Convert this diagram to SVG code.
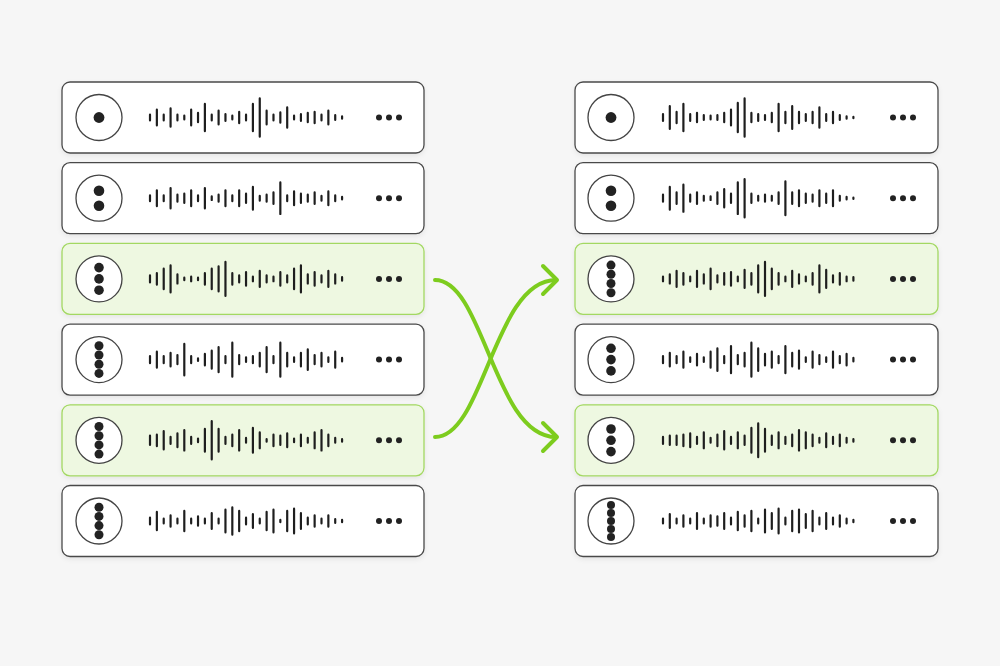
<svg xmlns="http://www.w3.org/2000/svg" width="1000" height="666" viewBox="0 0 1000 666">
<style>
.card{fill:#ffffff;stroke:#4a4a4a;stroke-width:1.3}
.hi .card{fill:#eef8e1;stroke:#a3d862}
.ring{fill:#ffffff;stroke:#444;stroke-width:1.3}
.dot{fill:#222}
.wave{fill:none;stroke:#1e1e1e;stroke-width:2.2;stroke-linecap:round}
.arrow{fill:none;stroke:#7dcc1e;stroke-width:4;stroke-linecap:round;stroke-linejoin:round}
</style>
<defs>
<filter id="sh" x="-5%" y="-10%" width="110%" height="130%">
<feDropShadow dx="0" dy="2" stdDeviation="2.5" flood-color="#000" flood-opacity="0.07"/>
</filter>
<g id="d1"><circle class="dot" cx="0" cy="0" r="5.4"/></g>
<g id="d2"><circle class="dot" cx="0" cy="-7.5" r="5.3"/><circle class="dot" cx="0" cy="7.5" r="5.3"/></g>
<g id="d3"><circle class="dot" cx="0" cy="-11.3" r="4.8"/><circle class="dot" cx="0" cy="0" r="4.8"/><circle class="dot" cx="0" cy="11.3" r="4.8"/></g>
<g id="d4"><circle class="dot" cx="0" cy="-13.8" r="4.5"/><circle class="dot" cx="0" cy="-4.6" r="4.5"/><circle class="dot" cx="0" cy="4.6" r="4.5"/><circle class="dot" cx="0" cy="13.8" r="4.5"/></g>
<g id="d5"><circle class="dot" cx="0" cy="-16" r="4"/><circle class="dot" cx="0" cy="-8" r="4"/><circle class="dot" cx="0" cy="0" r="4"/><circle class="dot" cx="0" cy="8" r="4"/><circle class="dot" cx="0" cy="16" r="4"/></g>
<g id="more"><circle class="dot" cx="317" cy="35.5" r="3"/><circle class="dot" cx="327" cy="35.5" r="3"/><circle class="dot" cx="337" cy="35.5" r="3"/></g>
</defs>
<rect width="1000" height="666" fill="#f6f6f6"/>

<g id="left-1" transform="translate(62,82)">
<rect class="card" x="0" y="0" width="362" height="71" rx="8" filter="url(#sh)"/>
<circle class="ring" cx="37" cy="35.5" r="23"/><use href="#d1" x="37" y="35.5"/>
<path class="wave" transform="matrix(1,0,0,1.12,0,-4.26)" d="M88,35.5 m0,-2.5v5m6.86,-2.5 m0,-7v14m6.86,-7 m0,-2.5v5m6.86,-2.5 m0,-8v16m6.86,-8 m0,-2.5v5m6.86,-2.5 m0,-1.5v3m6.86,-1.5 m0,-7v14m6.86,-7 m0,-4v8m6.86,-4 m0,-12v24m6.86,-12 m0,-2.5v5m6.86,-2.5 m0,-6v12m6.86,-6 m0,-3v6m6.86,-3 m0,-1.5v3m6.86,-1.5 m0,-5v10m6.86,-5 m0,-2.5v5m6.86,-2.5 m0,-12v24m6.86,-12 m0,-17v34m6.86,-17 m0,-6v12m6.86,-6 m0,-2.5v5m6.86,-2.5 m0,-4.5v9m6.86,-4.5 m0,-9v18m6.86,-9 m0,-1.5v3m6.86,-1.5 m0,-3v6m6.86,-3 m0,-4v8m6.86,-4 m0,-5v10m6.86,-5 m0,-2.5v5m6.86,-2.5 m0,-6v12m6.86,-6 m0,-2v4m6.86,-2 m0,-1v2"/>
<use href="#more"/>
</g>

<g id="left-2" transform="translate(62,162.7)">
<rect class="card" x="0" y="0" width="362" height="71" rx="8" filter="url(#sh)"/>
<circle class="ring" cx="37" cy="35.5" r="23"/><use href="#d2" x="37" y="35.5"/>
<path class="wave" transform="matrix(1,0,0,1.12,0,-4.26)" d="M88,35.5 m0,-2.5v5m6.86,-2.5 m0,-7v14m6.86,-7 m0,-2.5v5m6.86,-2.5 m0,-9v18m6.86,-9 m0,-3v6m6.86,-3 m0,-4v8m6.86,-4 m0,-7v14m6.86,-7 m0,-2.5v5m6.86,-2.5 m0,-9v18m6.86,-9 m0,-1.5v3m6.86,-1.5 m0,-3v6m6.86,-3 m0,-7v14m6.86,-7 m0,-2.5v5m6.86,-2.5 m0,-7v14m6.86,-7 m0,-4v8m6.86,-4 m0,-10v20m6.86,-10 m0,-2v4m6.86,-2 m0,-3v6m6.86,-3 m0,-5v10m6.86,-5 m0,-14v28m6.86,-14 m0,-2.5v5m6.86,-2.5 m0,-6v12m6.86,-6 m0,-4v8m6.86,-4 m0,-3v6m6.86,-3 m0,-5v10m6.86,-5 m0,-2v4m6.86,-2 m0,-6v12m6.86,-6 m0,-2.5v5m6.86,-2.5 m0,-1v2"/>
<use href="#more"/>
</g>

<g id="left-3" class="hi" transform="translate(62,243.4)">
<rect class="card" x="0" y="0" width="362" height="71" rx="8" filter="url(#sh)"/>
<circle class="ring" cx="37" cy="35.5" r="23"/><use href="#d3" x="37" y="35.5"/>
<path class="wave" transform="matrix(1,0,0,1.12,0,-4.26)" d="M88,35.5 m0,-3v6m6.86,-3 m0,-5v10m6.86,-5 m0,-9v18m6.86,-9 m0,-12v24m6.86,-12 m0,-4v8m6.86,-4 m0,-1v2m6.86,-1 m0,-2v4m6.86,-2 m0,-1v2m6.86,-1 m0,-5v10m6.86,-5 m0,-9v18m6.86,-9 m0,-11v22m6.86,-11 m0,-15v30m6.86,-15 m0,-5v10m6.86,-5 m0,-3v6m6.86,-3 m0,-6v12m6.86,-6 m0,-2v4m6.86,-2 m0,-7v14m6.86,-7 m0,-3v6m6.86,-3 m0,-2v4m6.86,-2 m0,-6v12m6.86,-6 m0,-3v6m6.86,-3 m0,-9v18m6.86,-9 m0,-12v24m6.86,-12 m0,-4v8m6.86,-4 m0,-6v12m6.86,-6 m0,-3v6m6.86,-3 m0,-7v14m6.86,-7 m0,-4v8m6.86,-4 m0,-1.5v3"/>
<use href="#more"/>
</g>

<g id="left-4" transform="translate(62,324.1)">
<rect class="card" x="0" y="0" width="362" height="71" rx="8" filter="url(#sh)"/>
<circle class="ring" cx="37" cy="35.5" r="23"/><use href="#d4" x="37" y="35.5"/>
<path class="wave" transform="matrix(1,0,0,1.12,0,-4.26)" d="M88,35.5 m0,-3v6m6.86,-3 m0,-7v14m6.86,-7 m0,-3v6m6.86,-3 m0,-6v12m6.86,-6 m0,-4v8m6.86,-4 m0,-14v28m6.86,-14 m0,-3v6m6.86,-3 m0,-1v2m6.86,-1 m0,-5v10m6.86,-5 m0,-8v16m6.86,-8 m0,-11v22m6.86,-11 m0,-3v6m6.86,-3 m0,-15v30m6.86,-15 m0,-4v8m6.86,-4 m0,-2v4m6.86,-2 m0,-3v6m6.86,-3 m0,-6v12m6.86,-6 m0,-11v22m6.86,-11 m0,-3v6m6.86,-3 m0,-15v30m6.86,-15 m0,-6v12m6.86,-6 m0,-2v4m6.86,-2 m0,-6v12m6.86,-6 m0,-9v18m6.86,-9 m0,-4v8m6.86,-4 m0,-6v12m6.86,-6 m0,-2v4m6.86,-2 m0,-7v14m6.86,-7 m0,-1.5v3"/>
<use href="#more"/>
</g>

<g id="left-5" class="hi" transform="translate(62,404.8)">
<rect class="card" x="0" y="0" width="362" height="71" rx="8" filter="url(#sh)"/>
<circle class="ring" cx="37" cy="35.5" r="23"/><use href="#d4" x="37" y="35.5"/>
<path class="wave" transform="matrix(1,0,0,1.12,0,-4.26)" d="M88,35.5 m0,-4v8m6.86,-4 m0,-5v10m6.86,-5 m0,-8v16m6.86,-8 m0,-3v6m6.86,-3 m0,-6v12m6.86,-6 m0,-9v18m6.86,-9 m0,-3v6m6.86,-3 m0,-1.5v3m6.86,-1.5 m0,-10v20m6.86,-10 m0,-17v34m6.86,-17 m0,-10v20m6.86,-10 m0,-3v6m6.86,-3 m0,-5v10m6.86,-5 m0,-9v18m6.86,-9 m0,-2v4m6.86,-2 m0,-11v22m6.86,-11 m0,-7v14m6.86,-7 m0,-1v2m6.86,-1 m0,-5v10m6.86,-5 m0,-4v8m6.86,-4 m0,-6v12m6.86,-6 m0,-1.5v3m6.86,-1.5 m0,-5v10m6.86,-5 m0,-2v4m6.86,-2 m0,-7v14m6.86,-7 m0,-9v18m6.86,-9 m0,-5v10m6.86,-5 m0,-2v4m6.86,-2 m0,-1v2"/>
<use href="#more"/>
</g>

<g id="left-6" transform="translate(62,485.5)">
<rect class="card" x="0" y="0" width="362" height="71" rx="8" filter="url(#sh)"/>
<circle class="ring" cx="37" cy="35.5" r="23"/><use href="#d4" x="37" y="35.5"/>
<path class="wave" transform="matrix(1,0,0,1.12,0,-4.26)" d="M88,35.5 m0,-3v6m6.86,-3 m0,-8v16m6.86,-8 m0,-2v4m6.86,-2 m0,-5v10m6.86,-5 m0,-2v4m6.86,-2 m0,-9v18m6.86,-9 m0,-2v4m6.86,-2 m0,-4v8m6.86,-4 m0,-2v4m6.86,-2 m0,-7v14m6.86,-7 m0,-2v4m6.86,-2 m0,-10v20m6.86,-10 m0,-12v24m6.86,-12 m0,-9v18m6.86,-9 m0,-3v6m6.86,-3 m0,-6v12m6.86,-6 m0,-2v4m6.86,-2 m0,-8v16m6.86,-8 m0,-10v20m6.86,-10 m0,-1v2m6.86,-1 m0,-9v18m6.86,-9 m0,-11v22m6.86,-11 m0,-7v14m6.86,-7 m0,-3v6m6.86,-3 m0,-5v10m6.86,-5 m0,-2v4m6.86,-2 m0,-5v10m6.86,-5 m0,-1.5v3m6.86,-1.5 m0,-1v2"/>
<use href="#more"/>
</g>

<g id="right-1" transform="translate(575,82)">
<rect class="card" x="0" y="0" width="363" height="71" rx="8" filter="url(#sh)"/>
<circle class="ring" cx="36" cy="35.5" r="23"/><use href="#d1" x="36" y="35.5"/>
<path class="wave" transform="matrix(1,0,0,1.12,0,-4.26)" d="M88,35.5 m0,-3v6m6.8,-3 m0,-10v20m6.8,-10 m0,-5v10m6.8,-5 m0,-12v24m6.8,-12 m0,-3v6m6.8,-3 m0,-4v8m6.8,-4 m0,-2v4m6.8,-2 m0,-1.5v3m6.8,-1.5 m0,-2v4m6.8,-2 m0,-4v8m6.8,-4 m0,-7v14m6.8,-7 m0,-13v26m6.8,-13 m0,-17v34m6.8,-17 m0,-4v8m6.8,-4 m0,-3v6m6.8,-3 m0,-2v4m6.8,-2 m0,-4v8m6.8,-4 m0,-12v24m6.8,-12 m0,-5v10m6.8,-5 m0,-10v20m6.8,-10 m0,-5v10m6.8,-5 m0,-3v6m6.8,-3 m0,-5v10m6.8,-5 m0,-9v18m6.8,-9 m0,-3v6m6.8,-3 m0,-5v10m6.8,-5 m0,-2v4m6.8,-2 m0,-1v2m6.8,-1 m0,-0.5v1"/>
<use href="#more" x="1"/>
</g>

<g id="right-2" transform="translate(575,162.7)">
<rect class="card" x="0" y="0" width="363" height="71" rx="8" filter="url(#sh)"/>
<circle class="ring" cx="36" cy="35.5" r="23"/><use href="#d2" x="36" y="35.5"/>
<path class="wave" transform="matrix(1,0,0,1.12,0,-4.26)" d="M88,35.5 m0,-3v6m6.8,-3 m0,-10v20m6.8,-10 m0,-5v10m6.8,-5 m0,-12v24m6.8,-12 m0,-3v6m6.8,-3 m0,-5v10m6.8,-5 m0,-2v4m6.8,-2 m0,-1.5v3m6.8,-1.5 m0,-5v10m6.8,-5 m0,-8v16m6.8,-8 m0,-4v8m6.8,-4 m0,-14v28m6.8,-14 m0,-17v34m6.8,-17 m0,-4v8m6.8,-4 m0,-2v4m6.8,-2 m0,-3v6m6.8,-3 m0,-2v4m6.8,-2 m0,-5v10m6.8,-5 m0,-15v30m6.8,-15 m0,-5v10m6.8,-5 m0,-7v14m6.8,-7 m0,-4v8m6.8,-4 m0,-3v6m6.8,-3 m0,-7v14m6.8,-7 m0,-4v8m6.8,-4 m0,-7v14m6.8,-7 m0,-2v4m6.8,-2 m0,-1v2m6.8,-1 m0,-0.5v1"/>
<use href="#more" x="1"/>
</g>

<g id="right-3" class="hi" transform="translate(575,243.4)">
<rect class="card" x="0" y="0" width="363" height="71" rx="8" filter="url(#sh)"/>
<circle class="ring" cx="36" cy="35.5" r="23"/><use href="#d4" x="36" y="35.5"/>
<path class="wave" transform="matrix(1,0,0,1.12,0,-4.26)" d="M88,35.5 m0,-2v4m6.8,-2 m0,-4v8m6.8,-4 m0,-7v14m6.8,-7 m0,-5v10m6.8,-5 m0,-2v4m6.8,-2 m0,-7v14m6.8,-7 m0,-4v8m6.8,-4 m0,-9v18m6.8,-9 m0,-3v6m6.8,-3 m0,-5v10m6.8,-5 m0,-6v12m6.8,-6 m0,-2v4m6.8,-2 m0,-8v16m6.8,-8 m0,-5v10m6.8,-5 m0,-12v24m6.8,-12 m0,-15v30m6.8,-15 m0,-9v18m6.8,-9 m0,-5v10m6.8,-5 m0,-2v4m6.8,-2 m0,-7v14m6.8,-7 m0,-4v8m6.8,-4 m0,-2v4m6.8,-2 m0,-5v10m6.8,-5 m0,-12v24m6.8,-12 m0,-8v16m6.8,-8 m0,-3v6m6.8,-3 m0,-5v10m6.8,-5 m0,-2v4m6.8,-2 m0,-1.5v3"/>
<use href="#more" x="1"/>
</g>

<g id="right-4" transform="translate(575,324.1)">
<rect class="card" x="0" y="0" width="363" height="71" rx="8" filter="url(#sh)"/>
<circle class="ring" cx="36" cy="35.5" r="23"/><use href="#d3" x="36" y="35.5"/>
<path class="wave" transform="matrix(1,0,0,1.12,0,-4.26)" d="M88,35.5 m0,-3v6m6.8,-3 m0,-6v12m6.8,-6 m0,-3v6m6.8,-3 m0,-7v14m6.8,-7 m0,-2v4m6.8,-2 m0,-5v10m6.8,-5 m0,-2v4m6.8,-2 m0,-7v14m6.8,-7 m0,-10v20m6.8,-10 m0,-3v6m6.8,-3 m0,-12v24m6.8,-12 m0,-4v8m6.8,-4 m0,-6v12m6.8,-6 m0,-15v30m6.8,-15 m0,-10v20m6.8,-10 m0,-5v10m6.8,-5 m0,-7v14m6.8,-7 m0,-3v6m6.8,-3 m0,-12v24m6.8,-12 m0,-6v12m6.8,-6 m0,-8v16m6.8,-8 m0,-2v4m6.8,-2 m0,-7v14m6.8,-7 m0,-4v8m6.8,-4 m0,-2v4m6.8,-2 m0,-7v14m6.8,-7 m0,-3v6m6.8,-3 m0,-5v10m6.8,-5 m0,-1.5v3"/>
<use href="#more" x="1"/>
</g>

<g id="right-5" class="hi" transform="translate(575,404.8)">
<rect class="card" x="0" y="0" width="363" height="71" rx="8" filter="url(#sh)"/>
<circle class="ring" cx="36" cy="35.5" r="23"/><use href="#d3" x="36" y="35.5"/>
<path class="wave" transform="matrix(1,0,0,1.12,0,-4.26)" d="M88,35.5 m0,-3v6m6.8,-3 m0,-4v8m6.8,-4 m0,-4v8m6.8,-4 m0,-5v10m6.8,-5 m0,-6v12m6.8,-6 m0,-3v6m6.8,-3 m0,-7v14m6.8,-7 m0,-2v4m6.8,-2 m0,-5v10m6.8,-5 m0,-8v16m6.8,-8 m0,-3v6m6.8,-3 m0,-7v14m6.8,-7 m0,-4v8m6.8,-4 m0,-11v22m6.8,-11 m0,-15v30m6.8,-15 m0,-10v20m6.8,-10 m0,-4v8m6.8,-4 m0,-7v14m6.8,-7 m0,-3v6m6.8,-3 m0,-5v10m6.8,-5 m0,-9v18m6.8,-9 m0,-7v14m6.8,-7 m0,-5v10m6.8,-5 m0,-2v4m6.8,-2 m0,-6v12m6.8,-6 m0,-3v6m6.8,-3 m0,-5v10m6.8,-5 m0,-2v4m6.8,-2 m0,-1v2"/>
<use href="#more" x="1"/>
</g>

<g id="right-6" transform="translate(575,485.5)">
<rect class="card" x="0" y="0" width="363" height="71" rx="8" filter="url(#sh)"/>
<circle class="ring" cx="36" cy="35.5" r="23"/><use href="#d5" x="36" y="35.5"/>
<path class="wave" transform="matrix(1,0,0,1.12,0,-4.26)" d="M88,35.5 m0,-2v4m6.8,-2 m0,-6v12m6.8,-6 m0,-2v4m6.8,-2 m0,-5v10m6.8,-5 m0,-2v4m6.8,-2 m0,-7v14m6.8,-7 m0,-2v4m6.8,-2 m0,-5v10m6.8,-5 m0,-4v8m6.8,-4 m0,-7v14m6.8,-7 m0,-3v6m6.8,-3 m0,-8v16m6.8,-8 m0,-5v10m6.8,-5 m0,-9v18m6.8,-9 m0,-2v4m6.8,-2 m0,-10v20m6.8,-10 m0,-7v14m6.8,-7 m0,-11v22m6.8,-11 m0,-3v6m6.8,-3 m0,-9v18m6.8,-9 m0,-10v20m6.8,-10 m0,-6v12m6.8,-6 m0,-9v18m6.8,-9 m0,-3v6m6.8,-3 m0,-7v14m6.8,-7 m0,-3v6m6.8,-3 m0,-5v10m6.8,-5 m0,-2v4m6.8,-2 m0,-1v2"/>
<use href="#more" x="1"/>
</g>

<g id="connectors">
<path class="arrow" d="M435,280 C484,280 494,437 556,437"/>
<path class="arrow" d="M543,423 L557,437 L543,451"/>
<path class="arrow" d="M435,437 C484,437 494,280 556,280"/>
<path class="arrow" d="M543,266 L557,280 L543,294"/>
</g>
</svg>
